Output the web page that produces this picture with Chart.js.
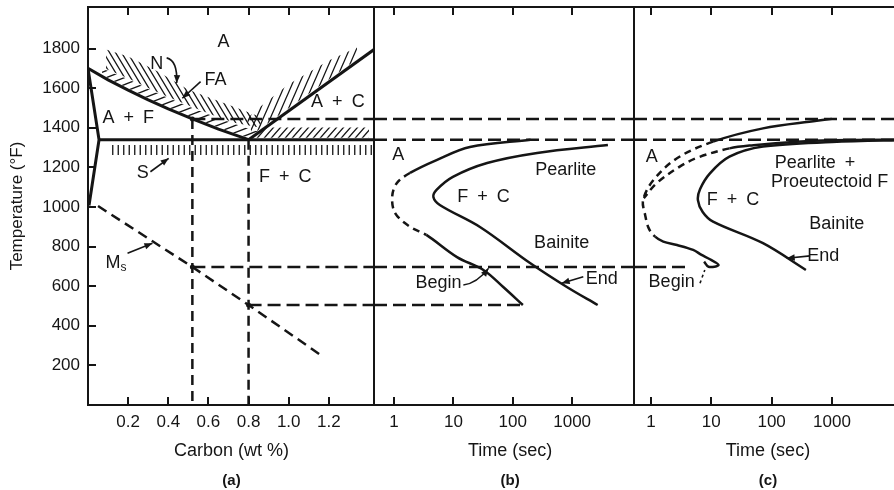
<!DOCTYPE html>
<html>
<head>
<meta charset="utf-8">
<title>Fe-C diagram and isothermal transformation curves</title>
<script src="https://cdn.jsdelivr.net/npm/chart.js@4.4.1/dist/chart.umd.min.js"></script>
<style>
  html, body { margin: 0; padding: 0; background: #fff; overflow: hidden; }
  body { position: relative; width: 894px; height: 490px; }
  canvas { position: absolute; top: 0; }
  #panelA { left: 0; }
  #panelB { left: 370px; }
  #panelC { left: 630px; }
</style>
</head>
<body>
<canvas id="panelA" width="380" height="490"></canvas>
<canvas id="panelB" width="270" height="490"></canvas>
<canvas id="panelC" width="280" height="490"></canvas>
<script>
const ink = '#151515';
const family = '"Liberation Sans", Arial, Helvetica, sans-serif';
Chart.defaults.font.family = family;
Chart.defaults.color = ink;
Chart.defaults.animation = false;

// temperature axis (°F), shared by the three panels
const tempTicks = [200, 400, 600, 800, 1000, 1200, 1400, 1600, 1800];
const tempRange = [0, 2010];

// (a) carbon content axis
const carbonTicks = [0.2, 0.4, 0.6, 0.8, 1.0, 1.2];
const carbonRange = [0, 1.425];

// (b), (c) time axis, seconds
const timeTicks = [1, 10, 100, 1000];
const timeRangeB = [0.46, 11000];
const timeRangeC = [0.523, 19700];

// critical temperatures carried across the panels
const tA3 = 1445;   // upper critical, 0.52 %C
const tA1 = 1340;   // eutectoid
const msHypo = 697; // Ms, 0.52 %C
const msEut = 505;  // Ms, 0.8 %C

// (a) phase boundaries [wt% C, °F]
const a3Line = [[0, 1700], [0.1, 1642], [0.2, 1590], [0.3, 1541], [0.4, 1495], [0.52, 1445], [0.65, 1393], [0.8, 1340]];
const acmLine = [[0.8, 1340], [1.425, 1795]];
const ferriteLine = [[0, 1700], [0.055, 1340], [0.005, 1008]];
const a1Line = [[0.055, 1340], [1.425, 1340]];
const msLine = [[0.05, 1005], [0.52, 697], [0.8, 505], [1.17, 245]];

// (a) heat treatment ranges (hatched)
const normalizeBand = [[0.09, 1795], [0.2, 1760], [0.35, 1683], [0.5, 1592], [0.73, 1505], [0.86, 1455], [0.86, 1400], [0.73, 1425], [0.65, 1453], [0.52, 1505], [0.4, 1555], [0.3, 1601], [0.2, 1650], [0.09, 1697]];
const annealBand = [[0.07, 1700], [0.2, 1645], [0.3, 1596], [0.4, 1550], [0.52, 1500], [0.65, 1448], [0.8, 1395], [0.86, 1378], [0.8, 1348], [0.65, 1401], [0.52, 1453], [0.4, 1503], [0.3, 1549], [0.2, 1598], [0.07, 1666]];
const acmBand = [[0.79, 1445], [0.85, 1500], [1.0, 1620], [1.2, 1740], [1.34, 1805], [1.34, 1746], [0.82, 1367]];
const hyperBand = [[0.83, 1350], [1.40, 1350], [1.40, 1402], [0.875, 1402]];
const spheroidBand = [[0.115, 1263], [1.415, 1263], [1.415, 1313], [0.115, 1313]];

// (b) eutectoid steel, [sec, °F]
const beginB = [[200, 1340], [19, 1303], [5.2, 1237], [1.86, 1172], [1.11, 1120], [0.93, 1050], [1.05, 968], [1.86, 900], [3.5, 859], [11.5, 747], [32, 682], [69, 596], [148, 505]];
const endB = [[4000, 1313], [257, 1273], [37, 1222], [9.8, 1152], [5.2, 1086], [4.6, 1050], [5.9, 1010], [28, 899], [195, 717], [813, 596], [2690, 505]];

// (c) hypoeutectoid steel, [sec, °F]
const ferriteC = [[1000, 1445], [560, 1435], [72, 1397], [10.7, 1330], [2.7, 1246], [1.1, 1136], [0.74, 1035], [0.8, 960], [0.92, 892], [1.17, 850], [1.6, 825], [2.7, 808], [5, 783], [6.9, 758], [9.5, 736], [13.2, 707], [9, 698], [7.6, 724]];
const pearliteC = [[19700, 1340], [1000, 1337], [263, 1330], [50, 1312], [20, 1296], [6, 1250], [3, 1204], [1.23, 1119], [0.76, 1045]];
const endC = [[19700, 1338], [1000, 1328], [72, 1305], [20, 1254], [9.5, 1170], [6.5, 1090], [6, 1035], [7.2, 975], [10.7, 926], [72, 817], [370, 682]];

// region labels and leader arrows, in axis units
const labelsA = [['A', 0.675, 1833], ['N', 0.342, 1722], ['FA', 0.635, 1641], ['A\u2002+\u2002F', 0.2, 1449],
  ['A\u2002+\u2002C', 1.245, 1530], ['S', 0.273, 1172], ['F\u2002+\u2002C', 0.983, 1152], ['M', 0.14, 717, { sub: 's' }]];
const arrowsA = [
  { from: [0.392, 1753], via: [0.447, 1740], to: [0.442, 1626] },
  { from: [0.561, 1633], to: [0.47, 1549] },
  { from: [0.311, 1178], to: [0.402, 1246] },
  { from: [0.197, 766], to: [0.321, 817] }
];
const labelsB = [['A', 1.18, 1263], ['Pearlite', 777, 1187], ['F\u2002+\u2002C', 32, 1052], ['Bainite', 665, 817], ['Begin', 5.6, 615], ['End', 3150, 635]];
const arrowsB = [
  { from: [14.7, 606], via: [25, 615], to: [39, 690] },
  { from: [1540, 648], to: [665, 615] }
];
const labelsC = [['A', 1.03, 1254], ['Pearlite\u2002+', 525, 1220], ['Proeutectoid F', 98, 1128, { align: 'left' }],
  ['F\u2002+\u2002C', 23, 1035], ['Bainite', 1200, 914], ['Begin', 2.2, 623], ['End', 720, 753]];
const arrowsC = [
  { from: [435, 753], to: [178, 741] },
  { from: [6.5, 615], to: [7.8, 682], head: false, dash: [3, 3] }
];

const xy = arr => arr.map(([x, y]) => ({ x, y }));

function trace(points, opts) {
  return Object.assign({
    data: xy(points), borderColor: ink, borderWidth: 2.5, pointRadius: 0,
    fill: false, tension: 0
  }, opts);
}
const dashed = (points, dash) => trace(points, { borderDash: dash || [13, 6] });

// smooth C-curve, dashed between two point indices
function curve(points, dashFrom, dashTo) {
  return trace(points, {
    tension: 0.35,
    segment: {
      borderDash: ctx => (ctx.p0DataIndex >= dashFrom && ctx.p1DataIndex <= dashTo) ? [7, 5] : undefined
    }
  });
}

function hatch(w, h, kind) {
  const c = document.createElement('canvas');
  c.width = w; c.height = h;
  const g = c.getContext('2d');
  g.strokeStyle = ink; g.lineWidth = 1.3;
  g.beginPath();
  if (kind === 'v') {
    g.moveTo(w / 4, -1); g.lineTo(w / 4, h + 1);
    g.moveTo(3 * w / 4, -1); g.lineTo(3 * w / 4, h + 1);
  } else {
    for (const k of [-1, 0, 1]) {
      if (kind === '/') { g.moveTo(k * w - w, 2 * h); g.lineTo(k * w + 2 * w, -h); }
      else { g.moveTo(k * w - w, -h); g.lineTo(k * w + 2 * w, 2 * h); }
    }
  }
  g.stroke();
  return g.createPattern(c, 'repeat');
}

function band(points, pattern) {
  return { data: xy(points), fill: 'shape', backgroundColor: pattern, borderColor: 'rgba(0,0,0,0)', borderWidth: 0, pointRadius: 0, tension: 0 };
}

// frame with inward ticks, text labels, leader arrows and captions
function notes(cfg) {
  return {
    id: 'notes',
    afterDatasetsDraw(chart) {
      const { ctx, chartArea: a, scales: { x, y } } = chart;
      const px = v => x.getPixelForValue(v);
      const py = v => y.getPixelForValue(v);
      ctx.save();
      ctx.strokeStyle = ink;
      ctx.fillStyle = ink;
      ctx.lineWidth = 2;
      ctx.strokeRect(a.left, a.top, a.right - a.left, a.bottom - a.top);
      ctx.beginPath();
      x.ticks.forEach((t, i) => {
        const tx = Math.round(x.getPixelForTick(i));
        ctx.moveTo(tx, a.bottom); ctx.lineTo(tx, a.bottom - 8);
        ctx.moveTo(tx, a.top); ctx.lineTo(tx, a.top + 8);
      });
      if (cfg.yTicks) {
        y.ticks.forEach((t, i) => {
          const ty = Math.round(y.getPixelForTick(i));
          ctx.moveTo(a.left, ty); ctx.lineTo(a.left + 8, ty);
        });
      }
      ctx.stroke();

      ctx.lineWidth = 1.6;
      for (const arr of cfg.arrows) {
        const x0 = px(arr.from[0]), y0 = py(arr.from[1]);
        const x1 = px(arr.to[0]), y1 = py(arr.to[1]);
        const cx = arr.via ? px(arr.via[0]) : (x0 + x1) / 2;
        const cy = arr.via ? py(arr.via[1]) : (y0 + y1) / 2;
        ctx.setLineDash(arr.dash || []);
        ctx.beginPath(); ctx.moveTo(x0, y0); ctx.quadraticCurveTo(cx, cy, x1, y1); ctx.stroke();
        ctx.setLineDash([]);
        if (arr.head !== false) {
          const ang = Math.atan2(y1 - cy, x1 - cx);
          const c = Math.cos(ang), s = Math.sin(ang);
          ctx.beginPath();
          ctx.moveTo(x1, y1);
          ctx.lineTo(x1 - 8 * c + 3.2 * s, y1 - 8 * s - 3.2 * c);
          ctx.lineTo(x1 - 8 * c - 3.2 * s, y1 - 8 * s + 3.2 * c);
          ctx.closePath(); ctx.fill();
        }
      }

      ctx.textBaseline = 'middle';
      for (const [text, lx, ly, extra = {}] of cfg.labels) {
        const x0 = px(lx), y0 = py(ly);
        ctx.font = `18px ${family}`;
        if (extra.sub) {
          const wm = ctx.measureText(text).width;
          ctx.font = `12px ${family}`;
          const ws = ctx.measureText(extra.sub).width;
          const start = x0 - (wm + ws) / 2;
          ctx.textAlign = 'left';
          ctx.fillText(extra.sub, start + wm, y0 + 5);
          ctx.font = `18px ${family}`;
          ctx.fillText(text, start, y0);
        } else {
          ctx.textAlign = extra.align || 'center';
          ctx.fillText(text, x0, y0);
        }
      }

      const [title, at, letter] = cfg.caption;
      ctx.textAlign = 'center';
      ctx.font = `18px ${family}`;
      ctx.fillText(title, px(at), a.bottom + 46);
      ctx.font = `bold 15px ${family}`;
      ctx.fillText(letter, px(at), a.bottom + 76);
      ctx.restore();
    }
  };
}

const quiet = { legend: { display: false }, tooltip: { enabled: false } };
const tickFont = { size: 17 };
const hiddenTemp = { type: 'linear', display: false, min: tempRange[0], max: tempRange[1] };

// fixed axis boxes so the three plot areas line up
function fixHeight(s) { s.height = 85; s.paddingLeft = 0; s.paddingRight = 0; }
function fixWidth(s) { s.width = 88; s.paddingTop = 0; s.paddingBottom = 0; }

function timeScale(range) {
  return {
    type: 'logarithmic', min: range[0], max: range[1],
    afterBuildTicks: s => { s.ticks = timeTicks.map(value => ({ value })); },
    afterFit: fixHeight,
    grid: { display: false, drawTicks: false }, border: { display: false },
    ticks: { font: tickFont, padding: 7, autoSkip: false, maxRotation: 0, callback: v => String(v) }
  };
}

// (a) iron-carbon diagram
new Chart(document.getElementById('panelA'), {
  type: 'line',
  data: {
    datasets: [
      band(normalizeBand, hatch(6, 10, '\\')),
      band(annealBand, hatch(18, 7, '/')),
      band(acmBand, hatch(7, 16, '/')),
      band(hyperBand, hatch(7, 8, '/')),
      band(spheroidBand, hatch(11, 10, 'v')),
      trace(a3Line, { borderWidth: 3 }),
      trace(acmLine, { borderWidth: 3 }),
      trace(ferriteLine, { borderWidth: 3 }),
      trace(a1Line, { borderWidth: 3 }),
      dashed(msLine, [10, 6]),
      dashed([[0.52, tA3], [0.52, 0]], [10, 6]),
      dashed([[0.8, tA1], [0.8, 0]], [10, 6]),
      dashed([[0.52, tA3], [carbonRange[1], tA3]]),
      dashed([[0.52, msHypo], [carbonRange[1], msHypo]]),
      dashed([[0.8, msEut], [carbonRange[1], msEut]]),
      trace([[0.52, tA3], [0.52, msHypo], [0.8, msEut]], { showLine: false, pointRadius: 2.5, pointBackgroundColor: ink, pointBorderWidth: 0 })
    ]
  },
  options: {
    responsive: false,
    events: [],
    layout: { padding: { top: 7, right: 6, left: 0, bottom: 0 } },
    plugins: quiet,
    scales: {
      x: {
        type: 'linear', min: carbonRange[0], max: carbonRange[1],
        afterBuildTicks: s => { s.ticks = carbonTicks.map(value => ({ value })); },
        afterFit: fixHeight,
        grid: { display: false, drawTicks: false }, border: { display: false },
        ticks: { font: tickFont, padding: 7, autoSkip: false, maxRotation: 0, callback: v => v.toFixed(1) }
      },
      y: {
        type: 'linear', min: tempRange[0], max: tempRange[1],
        afterBuildTicks: s => { s.ticks = tempTicks.map(value => ({ value })); },
        afterFit: fixWidth,
        grid: { display: false, drawTicks: false }, border: { display: false },
        ticks: { font: tickFont, padding: 8, callback: v => String(v) },
        title: { display: true, text: 'Temperature (°F)', font: { size: 17 }, padding: { top: 7, bottom: 0 } }
      }
    }
  },
  plugins: [notes({ yTicks: true, labels: labelsA, arrows: arrowsA, caption: ['Carbon (wt %)', 0.715, '(a)'] })]
});

// (b) eutectoid steel
new Chart(document.getElementById('panelB'), {
  type: 'line',
  data: {
    datasets: [
      dashed([[timeRangeB[0], tA3], [timeRangeB[1], tA3]]),
      dashed([[timeRangeB[0], tA1], [timeRangeB[1], tA1]]),
      dashed([[timeRangeB[0], msHypo], [timeRangeB[1], msHypo]]),
      dashed([[timeRangeB[0], msEut], [148, msEut]]),
      curve(beginB, 3, 8),
      curve(endB, -1, -1)
    ]
  },
  options: {
    responsive: false,
    events: [],
    layout: { padding: { top: 7, right: 6, left: 4, bottom: 0 } },
    plugins: quiet,
    scales: { x: timeScale(timeRangeB), y: hiddenTemp }
  },
  plugins: [notes({ labels: labelsB, arrows: arrowsB, caption: ['Time (sec)', 90, '(b)'] })]
});

// (c) hypoeutectoid steel
new Chart(document.getElementById('panelC'), {
  type: 'line',
  data: {
    datasets: [
      dashed([[timeRangeC[0], tA3], [timeRangeC[1], tA3]]),
      dashed([[timeRangeC[0], tA1], [timeRangeC[1], tA1]]),
      dashed([[timeRangeC[0], msHypo], [4.4, msHypo]]),
      curve(ferriteC, 3, 9),
      curve(pearliteC, 4, 8),
      curve(endC, -1, -1)
    ]
  },
  options: {
    responsive: false,
    events: [],
    layout: { padding: { top: 7, right: 0, left: 4, bottom: 0 } },
    plugins: quiet,
    scales: { x: timeScale(timeRangeC), y: hiddenTemp }
  },
  plugins: [notes({ labels: labelsC, arrows: arrowsC, caption: ['Time (sec)', 87, '(c)'] })]
});
</script>
</body>
</html>
